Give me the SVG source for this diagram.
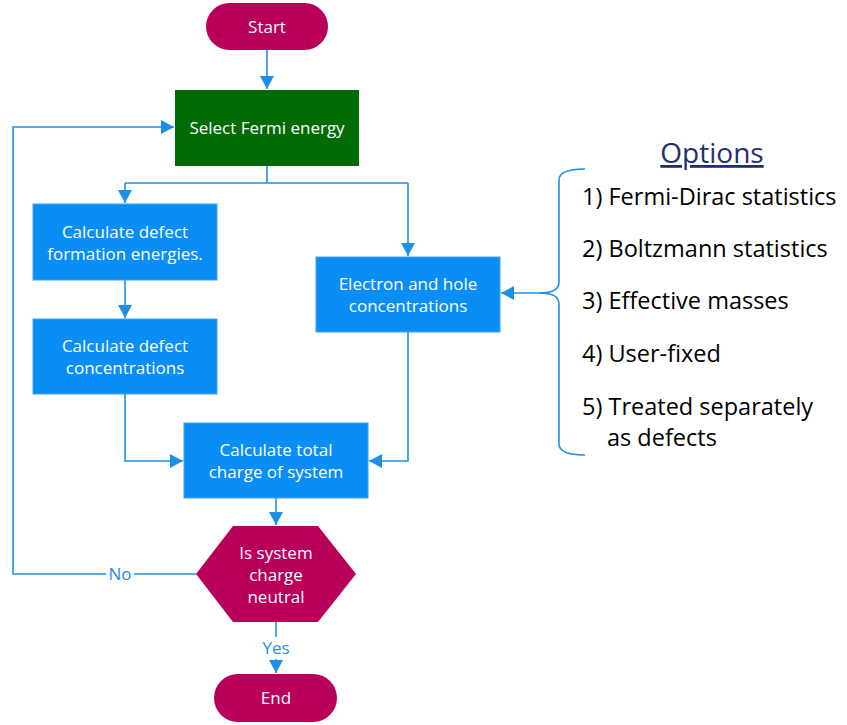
<svg xmlns="http://www.w3.org/2000/svg" width="847" height="725" viewBox="0 0 847 725">
<defs>
<marker id="ah" markerUnits="userSpaceOnUse" markerWidth="14" markerHeight="14" viewBox="0 0 14 14" refX="13" refY="7" orient="auto">
<path d="M0,0 L13,7 L0,14 Z" fill="#1E8FE6"/>
</marker>
<style>
.c{fill:none;stroke:#1E8FE6;stroke-width:1.6}
.t{font-family:"Open Sans","Noto Sans",sans-serif;font-size:17px;fill:#fff;text-anchor:middle}
.b{fill:#0A8EF5;stroke:#3FA3F0;stroke-width:1}
.m{fill:#B8005A}
.lbl{font-family:"Open Sans","Noto Sans",sans-serif;font-size:17px;fill:#1E8FE6;text-anchor:middle}
.o{font-family:"Open Sans","Noto Sans",sans-serif;font-size:23.5px;fill:#000}
</style>
</defs>
<rect width="847" height="725" fill="#fff"/>
<g id="connectors">
<path class="c" d="M267,50 V89" marker-end="url(#ah)"/>
<path class="c" d="M267,166 V183 M125,183 H408"/>
<path class="c" d="M125,183 V203" marker-end="url(#ah)"/>
<path class="c" d="M408,183 V256" marker-end="url(#ah)"/>
<path class="c" d="M125,280 V318" marker-end="url(#ah)"/>
<path class="c" d="M125,394 V461 H183" marker-end="url(#ah)"/>
<path class="c" d="M408,332 V461 H369" marker-end="url(#ah)"/>
<path class="c" d="M276,498 V525" marker-end="url(#ah)"/>
<path class="c" d="M196,574 H13 V127 H174" marker-end="url(#ah)"/>
<path class="c" d="M276,622 V673" marker-end="url(#ah)"/>
<path class="c" d="M585,169 Q559,169 559,180 V282 Q559,293 540,293 H501" marker-end="url(#ah)"/>
<path class="c" d="M540,293 Q559,293 559,304 V444 Q559,455 585,455"/>
<rect x="106" y="564" width="28" height="20" fill="#fff"/>
<text class="lbl" x="120" y="580">No</text>
<rect x="260" y="637" width="32" height="22" fill="#fff"/>
<text class="lbl" x="276" y="654">Yes</text>
</g>
<g id="start">
<rect class="m" x="206" y="3" width="122" height="47" rx="23.5"/>
<text class="t" x="267" y="33">Start</text>
</g>
<g id="select">
<rect x="175" y="90" width="184" height="76" fill="#036B05"/>
<text class="t" x="267" y="134">Select Fermi energy</text>
</g>
<g id="formation">
<rect class="b" x="33" y="204" width="184" height="76"/>
<text class="t" x="125" y="238">Calculate defect</text>
<text class="t" x="125" y="260">formation energies.</text>
</g>
<g id="defectconc">
<rect class="b" x="33" y="319" width="184" height="75"/>
<text class="t" x="125" y="352">Calculate defect</text>
<text class="t" x="125" y="374">concentrations</text>
</g>
<g id="electron">
<rect class="b" x="316" y="257" width="184" height="75"/>
<text class="t" x="408" y="290">Electron and hole</text>
<text class="t" x="408" y="312">concentrations</text>
</g>
<g id="total">
<rect class="b" x="184" y="423" width="184" height="75"/>
<text class="t" x="276" y="456">Calculate total</text>
<text class="t" x="276" y="478">charge of system</text>
</g>
<g id="decision">
<path class="m" d="M233,526 H318 L356,574 L318,622 H233 L196,574 Z"/>
<text class="t" x="276" y="559">Is system</text>
<text class="t" x="276" y="581">charge</text>
<text class="t" x="276" y="603">neutral</text>
</g>
<g id="end">
<rect class="m" x="214" y="674" width="123" height="48" rx="24"/>
<text class="t" x="276" y="704">End</text>
</g>
<g id="options">
<text x="712" y="163" font-family="'Open Sans','Noto Sans',sans-serif" font-size="28" fill="#1F2F6E" text-anchor="middle" text-decoration="underline">Options</text>
<text class="o" x="582" y="205">1) Fermi-Dirac statistics</text>
<text class="o" x="582" y="257">2) Boltzmann statistics</text>
<text class="o" x="582" y="309">3) Effective masses</text>
<text class="o" x="582" y="362">4) User-fixed</text>
<text class="o" x="582" y="415">5) Treated separately</text>
<text class="o" x="607" y="446">as defects</text>
</g>
</svg>
